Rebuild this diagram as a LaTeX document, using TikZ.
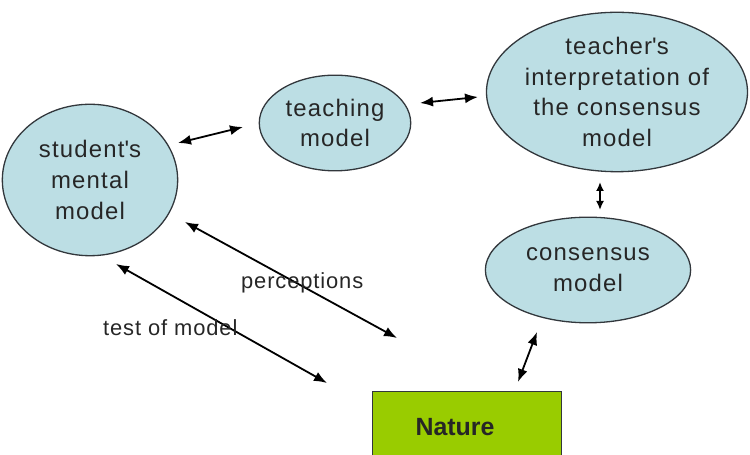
\documentclass[tikz,border=0pt]{standalone}
\usepackage{fontspec}
\setmainfont{Liberation Sans}
\newfontfamily\spacedfont[LetterSpace=5]{Liberation Sans}
\newfontfamily\lblfont[LetterSpace=4]{Liberation Sans}
\usetikzlibrary{arrows.meta,shapes.geometric}
\definecolor{bubble}{RGB}{188,222,228}
\definecolor{natgreen}{RGB}{153,204,0}
\definecolor{edge}{RGB}{50,55,60}
\tikzset{
  x=1bp,y=1bp,
  bub/.style={ellipse, draw=edge, line width=1.3bp, fill=bubble, inner sep=0pt, align=center,
    font=\spacedfont\fontsize{24}{31}\selectfont, text=black!85},
  link/.style={line width=1.8bp, {Latex[length=13bp,width=10bp]}-{Latex[length=13bp,width=10bp]}},
  shortlink/.style={line width=1.8bp, {Latex[length=9bp,width=8bp]}-{Latex[length=9bp,width=8bp]}},
  lbl/.style={font=\lblfont\fontsize{22}{25}\selectfont, text=black!85, inner sep=0pt}
}
\begin{document}
\begin{tikzpicture}
\useasboundingbox (0,0) rectangle (750,455);
\clip (0,0) rectangle (750,455);
\node[bub, minimum width=176, minimum height=152] (student) at (90,275) {student\textquotesingle s\\mental\\model};
\node[bub, minimum width=152, minimum height=96] (teaching) at (335,332) {teaching\\model};
\node[bub, minimum width=262, minimum height=160] (teacher) at (617,363) {teacher\textquotesingle s\\interpretation of\\the consensus\\model};
\node[bub, minimum width=206, minimum height=106] (consensus) at (588,185) {consensus\\model};
\node[draw=edge, line width=1.3bp, fill=natgreen, minimum width=190, minimum height=72, inner sep=0pt,
  anchor=north] (nature) at (467,64) {};
\node[font=\fontsize{25}{30}\selectfont\bfseries, text=black!85, inner sep=0pt] (naturetext) at (455,28) {Nature};
\coordinate (a1) at (178,312); \coordinate (a2) at (243,328);
\coordinate (b1) at (420,352); \coordinate (b2) at (478,358);
\coordinate (c1) at (600,273); \coordinate (c2) at (600,245);
\coordinate (d1) at (537,123); \coordinate (d2) at (518,73);
\coordinate (p1) at (185,233); \coordinate (p2) at (397,117);
\coordinate (t1) at (116,191); \coordinate (t2) at (327,72);
\draw[link] (a1) -- (a2);
\draw[link] (b1) -- (b2);
\draw[shortlink] (c1) -- (c2);
\draw[link] (d1) -- (d2);
\draw[link] (p1) -- (p2);
\draw[link] (t1) -- (t2);
\node[lbl, anchor=west] (perc) at (241,172) {perceptions};
\node[lbl, anchor=west] (test) at (103,127) {test of model};
\end{tikzpicture}
\end{document}
